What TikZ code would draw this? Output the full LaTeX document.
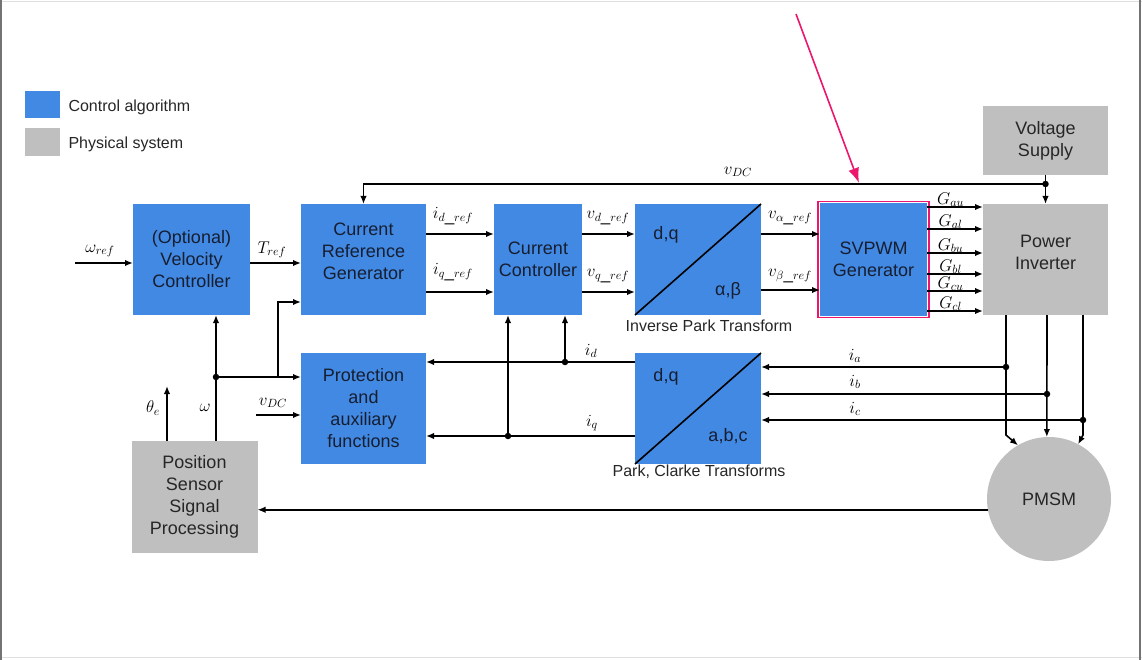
\RequirePackage{fix-cm}
\documentclass[tikz,border=0pt]{standalone}
\usepackage{fontspec}
\setmainfont{Liberation Sans}
\usepackage{tikz}
\usetikzlibrary{arrows.meta}
\definecolor{CtrlBlue}{RGB}{66,137,228}
\definecolor{PhysGray}{RGB}{191,191,191}
\definecolor{BoxText}{RGB}{22,30,48}
\definecolor{MarkPink}{RGB}{236,22,108}

\begin{document}
\begin{tikzpicture}[x=1pt,y=-1pt,
    ctrl/.style={fill=CtrlBlue, text=BoxText, align=center, inner sep=0pt, outer sep=0pt, font=\fontsize{18}{22}\selectfont},
    phys/.style={ctrl, fill=PhysGray, text=black!85},
    sig/.style={line width=1.6pt, -{Latex[length=8pt,width=6.5pt]}},
    wire/.style={line width=1.6pt},
    lbl/.style={font=\fontsize{17}{20}\selectfont, inner sep=1pt},
    captxt/.style={font=\fontsize{16}{19}\selectfont, text=black!85},
    jdot/.style={circle, fill=black, inner sep=0pt, minimum size=6.5pt}]
    \useasboundingbox (0,0) rectangle (1142,660);

    % Window frame
    \draw[black!12, line width=1.5pt] (0,1.5) -- (1142,1.5);
    \draw[black!12, line width=1.5pt] (0,657.5) -- (1142,657.5);
    \draw[black!55, line width=2pt] (1,0) -- (1,660);
    \draw[black!55, line width=2pt] (1140,0) -- (1140,660);

    % Legend
    \node[ctrl, minimum width=35pt, minimum height=27pt] (legctrl) at (42.5,105) {};
    \node[captxt, anchor=west, xshift=5pt, yshift=-2pt] at (legctrl.east) {Control algorithm};
    \node[phys, minimum width=35pt, minimum height=28pt] (legphys) at (42.5,142) {};
    \node[captxt, anchor=west, xshift=5pt, yshift=-2pt] at (legphys.east) {Physical system};

    % Upper row of blocks
    \node[ctrl, minimum width=117pt, minimum height=111pt] (velo) at (191.5,259.5) {(Optional)\\Velocity\\Controller};
    \node[ctrl, minimum width=125pt, minimum height=111pt] (curref) at (363.5,259.5) {};
    \node[ctrl] at (363.5,251.5) {Current\\Reference\\Generator};
    \node[ctrl, minimum width=88pt, minimum height=111pt] (curctl) at (538,259.5) {Current\\Controller};
    \node[ctrl, minimum width=126pt, minimum height=111pt] (invpark) at (698,259.5) {};
    \node[ctrl, minimum width=107pt, minimum height=112pt] (svpwm) at (873.5,259.5) {SVPWM\\Generator};
    \node[draw=MarkPink, line width=1.6pt, minimum width=111pt, minimum height=116pt, inner sep=0pt] (svmark) at (svpwm) {};
    \node[phys, minimum width=125pt, minimum height=69pt] (supply) at (1045.5,140.5) {Voltage\\Supply};
    \node[phys, minimum width=125pt, minimum height=111pt] (inverter) at (1045.5,259.5) {};
    \node[phys] at (1045.5,252.5) {Power\\Inverter};

    % Inverse Park Transform
    \draw[wire] (invpark.south west) -- (invpark.north east);
    \node[ctrl] at (666,235) {d,q};
    \node[ctrl] at (728,291) {α,β};
    \node[captxt] at (709,326) {Inverse Park Transform};

    % Lower row of blocks
    \node[ctrl, minimum width=125pt, minimum height=111pt] (protect) at (363.5,408.5) {Protection\\and\\auxiliary\\functions};
    \node[ctrl, minimum width=126pt, minimum height=111pt] (park) at (698,408.5) {};
    \node[phys, minimum width=126pt, minimum height=112pt] (sensor) at (194.5,497) {Position\\Sensor\\Signal\\Processing};
    \node[phys, circle, minimum size=124pt] (pmsm) at (1049,499) {PMSM};

    % Park, Clarke Transforms
    \draw[wire] (park.south west) -- (park.north east);
    \node[ctrl] at (666,377) {d,q};
    \node[ctrl] at (728,436) {a,b,c};
    \node[captxt] at (699,472) {Park, Clarke Transforms};

    % Forward path
    \coordinate (wrefin) at (75,263);
    \draw[sig] (wrefin) -- (velo.west |- wrefin);
    \node[lbl] at (100,251) {$\omega_{ref}$};
    \draw[sig] (velo.east |- 0,263) -- (curref.west |- 0,263);
    \node[lbl] at (272,250) {$T_{ref}$};
    \draw[sig] (curref.east |- 0,234) -- (curctl.west |- 0,234);
    \node[lbl] at (453,216) {$i_{d\_ref}$};
    \draw[sig] (curref.east |- 0,292) -- (curctl.west |- 0,292);
    \node[lbl] at (453,272) {$i_{q\_ref}$};
    \draw[sig] (curctl.east |- 0,234) -- (invpark.west |- 0,234);
    \node[lbl] at (608,218) {$v_{d\_ref}$};
    \draw[sig] (curctl.east |- 0,292) -- (invpark.west |- 0,292);
    \node[lbl] at (608,276) {$v_{q\_ref}$};
    \draw[sig] (invpark.east |- 0,234) -- (svpwm.west |- 0,234);
    \node[lbl] at (790,218) {$v_{\alpha\_ref}$};
    \draw[sig] (invpark.east |- 0,290) -- (svpwm.west |- 0,290);
    \node[lbl] at (790,276) {$v_{\beta\_ref}$};

    % Gate signals
    \foreach \gy/\gn in {207/au,229/al,253/bu,274/bl,291/cu,311/cl}
        \draw[sig] (svpwm.east |- 0,\gy) -- (inverter.west |- 0,\gy) node[lbl, pos=0.42, above=-1.5pt] {$G_{\gn}$};

    % DC link voltage
    \coordinate (vdcdot) at (1045.5,184);
    \draw[wire] (supply.south) -- (vdcdot);
    \draw[sig] (vdcdot) -- (inverter.north);
    \draw[sig] (vdcdot) -| (curref.north);
    \node[jdot] at (vdcdot) {};
    \node[lbl] at (738,172) {$v_{DC}$};

    % Highlight arrow
    \coordinate (pinkstart) at (796,14);
    \coordinate (pinkend) at (859,183);
    \draw[MarkPink, line width=1.6pt, -{Latex[length=15pt,width=11pt]}] (pinkstart) -- (pinkend);

    % Measured currents d,q
    \coordinate (iddot) at (565,362);
    \coordinate (iqdot) at (508,436);
    \draw[sig] (park.west |- iddot) -- (protect.east |- iddot);
    \draw[sig] (park.west |- iqdot) -- (protect.east |- iqdot);
    \draw[sig] (iddot) -- (curctl.south -| iddot);
    \draw[sig] (iqdot) -- (curctl.south -| iqdot);
    \node[jdot] at (iddot) {};
    \node[jdot] at (iqdot) {};
    \node[lbl] at (591,351) {$i_d$};
    \node[lbl] at (592,423) {$i_q$};

    % Speed and position
    \coordinate (wdot) at (216,377);
    \draw[sig] (sensor.north -| wdot) -- (velo.south -| wdot);
    \draw[sig] (wdot) -- (protect.west |- wdot);
    \draw[sig] (278,377) |- (curref.west |- 0,302);
    \node[jdot] at (wdot) {};
    \node[lbl] at (205,408) {$\omega$};
    \draw[sig] (sensor.north -| 167,0) -- (167,386);
    \node[lbl] at (153,408) {$\theta_e$};
    \draw[sig] (256,415) -- (protect.west |- 0,415);
    \node[lbl] at (273,403) {$v_{DC}$};
    \draw[sig] (pmsm.190) -- (sensor.east |- pmsm.190);

    % Phase lines and currents
    \coordinate (adot) at (1006,367);
    \coordinate (bdot) at (1047,394);
    \coordinate (cdot) at (1083,420);
    \draw[sig] (inverter.south -| adot) -- (1006,435) -- (pmsm.120);
    \draw[sig] (inverter.south -| bdot) -- (pmsm.92);
    \draw[sig] (inverter.south -| cdot) -- (1083,435) -- (pmsm.62);
    \draw[sig] (adot) -- (park.east |- adot);
    \draw[sig] (bdot) -- (park.east |- bdot);
    \draw[sig] (cdot) -- (park.east |- cdot);
    \node[jdot] at (adot) {};
    \node[jdot] at (bdot) {};
    \node[jdot] at (cdot) {};
    \node[lbl] at (855,356) {$i_a$};
    \node[lbl] at (855,382) {$i_b$};
    \node[lbl] at (855,409) {$i_c$};
\end{tikzpicture}
\end{document}
